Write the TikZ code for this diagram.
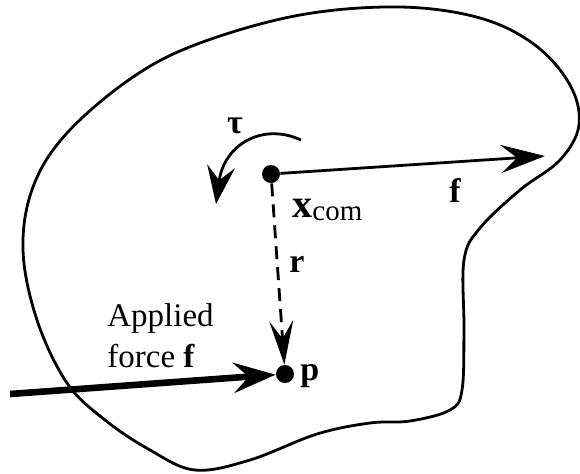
\documentclass[tikz,border=0pt]{standalone}
\usepackage{fontspec}
\setmainfont{Liberation Serif}
\usetikzlibrary{arrows.meta, positioning, calc}

\begin{document}
\begin{tikzpicture}[
    x=0.5pt, y=-0.5pt,
    body/.style={line width=1.4pt, line join=round},
    dot/.style={circle, fill=black, inner sep=0pt, minimum size=9pt},
    lbl/.style={inner sep=0pt, font=\bfseries\fontsize{17}{19}\selectfont},
    txt/.style={inner sep=0pt, align=left, font=\fontsize{16.5}{20.5}\selectfont},
    arrow/.style={line width=1.4pt, -{Stealth[length=22pt, width=14pt, inset=8pt]}},
    applied/.style={line width=3.3pt, -{Stealth[length=21pt, width=15pt, inset=7.5pt]}},
    offset/.style={line width=1.4pt, dash pattern=on 6.5pt off 4pt, -{Stealth[length=22pt, width=12pt, inset=9pt]}},
    torque/.style={line width=1.4pt, -{Stealth[length=19pt, width=14pt, inset=7pt]}}
]
\useasboundingbox (0,0) rectangle (580,473);

\draw[body] plot[smooth cycle, tension=0.6] coordinates {
    (400,7) (480,18) (535,45) (570,85) (579,125) (560,160) (520,190)
    (480,228) (464,260) (464,330) (462,390) (450,410) (410,421)
    (370,423) (317,434) (250,460) (195,470) (150,450) (105,420)
    (67,383) (37,320) (23,250) (33,187) (67,133) (133,77) (200,43) (300,15)};

\node[dot] (com) at (271,174) {};
\node[dot] (p) at (285,374) {};
\coordinate (ftip) at (545,156);
\coordinate (fstart) at (10,394);
\coordinate (taustart) at (301,140);
\coordinate (tauend) at (216,204);

\node[lbl, anchor=center] (tau) at (235,126) {τ};
\node[lbl, anchor=base] (flbl) at (455,202) {f};
\node[lbl, anchor=base west] (xcom) at (292,217) {{\fontsize{20}{22}\selectfont x}\raisebox{-0.2ex}{\mdseries\fontsize{14.5}{16}\selectfont com}};
\node[lbl, anchor=base] (rlbl) at (297,272) {r};
\node[lbl, anchor=base west] (plbl) at (300,380) {p};
\node[txt, anchor=west] (appl) at (107,336) {Applied\\force \textbf{f}};

\draw[arrow] (com) -- (ftip);
\draw[offset] (com) -- (p);
\draw[applied] (fstart) -- (p);
\draw[torque] (taustart) .. controls (262,122) and (224,145) .. (tauend);
\end{tikzpicture}
\end{document}
